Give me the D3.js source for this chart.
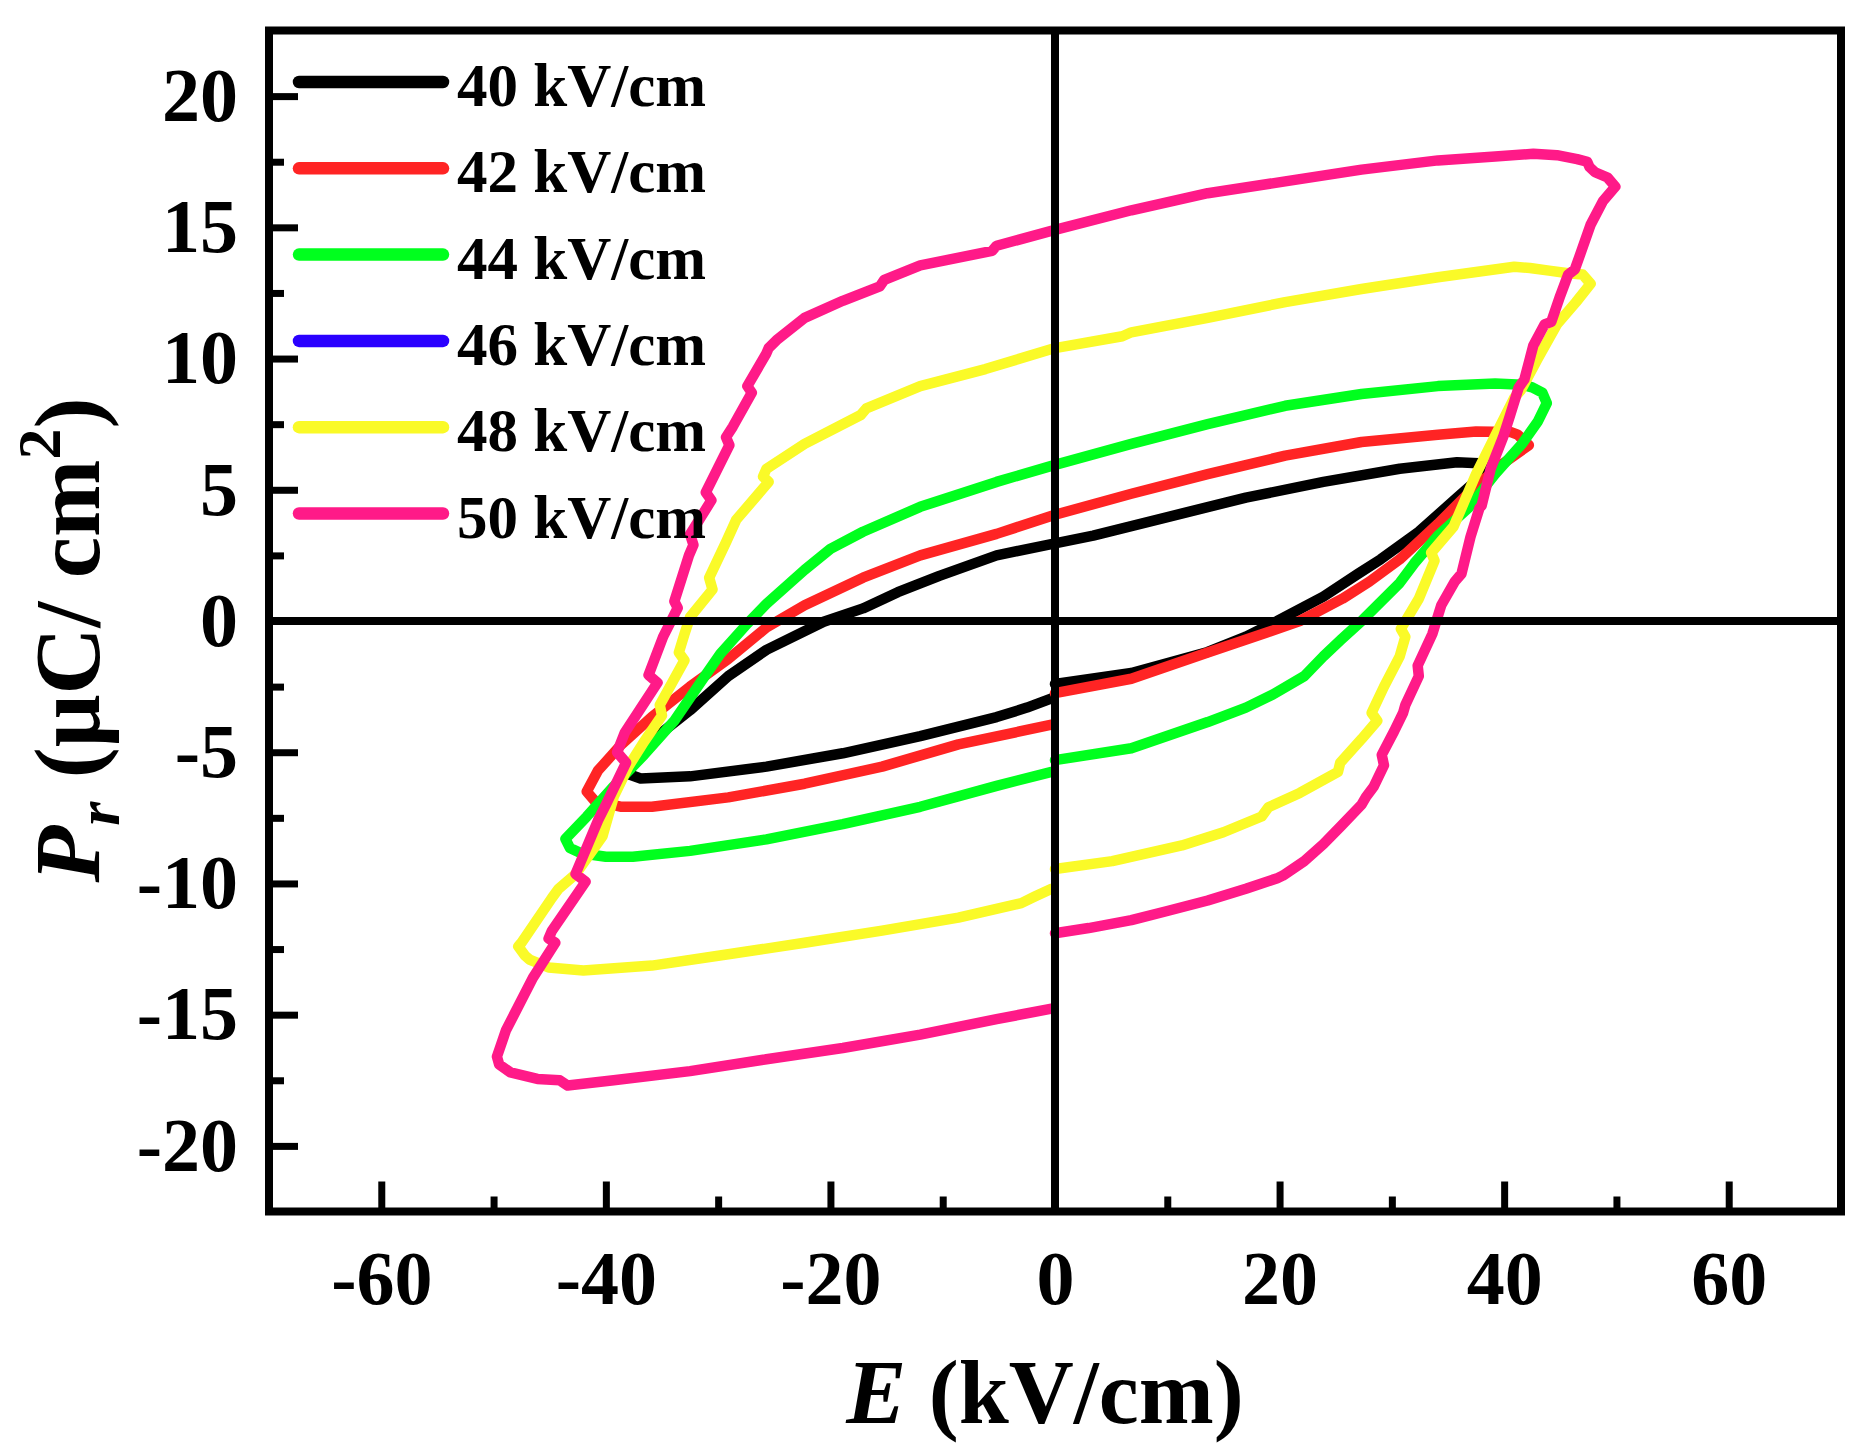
<!DOCTYPE html>
<html>
<head>
<meta charset="utf-8">
<script src="https://cdn.jsdelivr.net/npm/d3@7"></script>
<style>
body { margin: 0; background: #fff; }
text { font-family: "Liberation Serif", "Times New Roman", serif; font-weight: bold; fill: #000; }
</style>
</head>
<body>
<div id="chart"></div>
<script>
// P-E loops, [E (kV/cm), P (uC/cm2)] in the order they were traced
const loop40 = [[0,-2.4],[6.8,-1.98],[13.6,-1.18],[17,-0.6],[19.8,0.0],[23.9,0.93],[27,1.8],[29,2.35],[32.4,3.4],[35.8,4.7],[38.2,5.6],[39.6,5.9],
  [38.2,6.0],[35.8,6.05],[30.7,5.8],[23.9,5.3],[17,4.7],[10.2,3.98],[3.4,3.25],[0,2.96],[-5.2,2.5],[-10.3,1.72],[-14,1.1],[-17.1,0.48],[-20.6,-0.03],
  [-25.7,-1.1],[-29.1,-2.1],[-32.5,-3.4],[-35.9,-4.55],[-37.6,-5.4],[-37.9,-5.85],[-36.9,-6.0],[-32.5,-5.92],[-25.7,-5.55],[-18.9,-5.04],
  [-12,-4.39],[-5.2,-3.66],[-2.5,-3.3],[-0.3,-2.95]]

const loop42 = [[0,-2.75],[6.8,-2.2],[13.6,-1.2],[18.8,-0.45],[21.8,0.0],[25.6,0.85],[28,1.5],[30.7,2.35],[34.1,3.7],[37.5,5.15],[39.9,6.0],[42.2,6.7],
  [41.2,7.1],[40.6,7.2],[37.5,7.22],[34.1,7.1],[27.3,6.82],[20.5,6.3],[13.6,5.6],[6.8,4.85],[0,4.05],[-5.2,3.32],[-12,2.5],[-17.1,1.65],
  [-22.3,0.6],[-25.7,-0.25],[-29.1,-1.45],[-32.5,-2.5],[-35.9,-3.65],[-38.6,-4.7],[-40.7,-5.7],[-41.7,-6.5],[-41,-6.85],[-38.6,-7.08],
  [-35.9,-7.08],[-29.1,-6.72],[-22.3,-6.2],[-15.4,-5.55],[-8.6,-4.7],[-0.3,-3.95]]

const loop44 = [[0,-5.3],[6.8,-4.85],[13.6,-3.85],[17,-3.3],[19.4,-2.8],[22.2,-2.1],[23.9,-1.35],[25.5,-0.7],[27.3,0.0],[30.7,1.45],[32,2.2],
  [34.1,3.25],[36.8,4.3],[39.2,5.6],[41.6,6.75],[43,7.6],[43.8,8.3],[43.4,8.7],[42.5,8.9],[41.6,9.0],[39.2,9.05],[34.1,8.95],[27.3,8.65],
  [20.5,8.2],[13.6,7.5],[6.8,6.75],[0,5.95],[-5.2,5.3],[-12,4.35],[-17.1,3.4],[-20,2.75],[-22.3,1.95],[-25.7,0.65],[-27.4,-0.1],[-29.8,-1.25],
  [-31.5,-2.3],[-33.9,-3.8],[-36.6,-5.1],[-39.3,-6.3],[-41.7,-7.45],[-43.6,-8.3],[-43.2,-8.65],[-42.2,-8.85],[-40,-8.98],[-37.6,-8.98],
  [-32.5,-8.76],[-25.7,-8.32],[-18.9,-7.74],[-12,-7.08],[-5.2,-6.28],[-0.3,-5.75]]

const loop46 = []

const loop48 = [[0,-9.45],[5.1,-9.15],[11.3,-8.55],[15,-8.05],[18.4,-7.45],[19,-7.1],[21.8,-6.55],[25.2,-5.75],[25.4,-5.4],[27.3,-4.5],
  [28.7,-3.8],[28.2,-3.5],[29.3,-2.5],[30.7,-1.35],[31.2,-0.6],[30.8,-0.3],[32.4,0.85],[33.8,2.3],[33.5,2.6],[35.5,3.6],[37.5,5.6],[39.2,7.05],
  [40.9,8.5],[41.5,8.8],[43,10.0],[44.7,11.3],[46.4,12.15],[47.7,12.85],[47,13.2],[45.7,13.25],[44,13.35],[42.3,13.45],[40.9,13.5],
  [34.1,13.1],[27.3,12.65],[20.5,12.15],[13.6,11.55],[6.8,11.0],[6,10.85],[0,10.4],[-6.2,9.6],[-12,8.95],[-16.8,8.1],[-17.3,7.85],
  [-22.3,6.75],[-25.7,5.8],[-26,5.5],[-25.5,5.3],[-28.4,3.85],[-29.3,3.0],[-30.8,1.65],[-30.5,1.2],[-32.5,0.15],[-33,-0.5],[-33.5,-1.2],
  [-33,-1.5],[-35.2,-3.2],[-35,-3.6],[-36.6,-4.6],[-38,-5.55],[-39.3,-6.7],[-40.3,-8.2],[-42.7,-9.65],[-44.2,-10.2],[-44.8,-10.55],
  [-47.5,-12.25],[-47.8,-12.4],[-47.2,-12.75],[-46.8,-12.9],[-45.1,-13.2],[-42,-13.32],[-35.9,-13.13],[-29.1,-12.7],[-22.3,-12.26],
  [-15.4,-11.8],[-8.6,-11.3],[-3,-10.75],[-1.8,-10.5],[-0.3,-10.2]]

const loop50 = [[0,-11.9],[3,-11.7],[6.8,-11.4],[10,-11.05],[13.6,-10.65],[17,-10.2],[19.8,-9.8],[20.3,-9.7],[22.2,-9.15],[23.9,-8.5],
  [25.5,-7.8],[27.3,-7.0],[27.7,-6.7],[28.4,-6.3],[29.3,-5.5],[29.1,-5.1],[30.2,-4.2],[31,-3.5],[31.2,-3.2],[32.4,-2.1],[32.3,-1.7],
  [33.6,-0.5],[34.4,0.6],[35.6,1.5],[36.2,1.8],[37,3.2],[37.8,4.3],[38,4.4],[38.8,5.8],[39.9,7.0],[40.5,7.8],[41.3,8.9],[41.8,9.2],
  [42.6,10.5],[43.6,11.3],[44.2,11.4],[45,12.4],[45.7,13.2],[46.3,13.4],[46.8,14.0],[47.7,15.1],[48.8,16.0],[49.9,16.55],
  [49.2,16.9],[48.1,17.1],[47.6,17.3],[47.4,17.5],[46.5,17.6],[44.7,17.75],[42.6,17.8],[39.2,17.7],[34.1,17.55],[27.3,17.2],[20.5,16.75],
  [13.6,16.3],[6.8,15.65],[0,14.9],[-5.2,14.3],[-5.6,14.1],[-12,13.55],[-15.2,13.0],[-15.6,12.75],[-18.9,12.2],[-22.3,11.55],[-24.8,10.7],
  [-25.5,10.4],[-25.7,10.2],[-27.4,8.95],[-27,8.7],[-28.7,7.4],[-29.3,7.0],[-29,6.7],[-31.1,4.9],[-30.6,4.6],[-32.5,3.3],[-32.2,2.9],
  [-32.6,2.5],[-33.9,0.75],[-33.6,0.5],[-34.9,-0.6],[-36.2,-2.06],[-35.4,-2.35],[-38.3,-4.24],[-39,-5.0],[-38.2,-5.4],[-40,-7.0],
  [-40.7,-7.6],[-42.7,-9.64],[-41.8,-9.93],[-44.8,-11.8],[-45.1,-12.1],[-44.5,-12.26],[-46.5,-13.6],[-48.9,-15.6],[-49.7,-16.6],
  [-49.5,-16.9],[-48.5,-17.2],[-46.1,-17.45],[-44.1,-17.5],[-43.4,-17.7],[-39.3,-17.5],[-32.5,-17.15],[-25.7,-16.7],[-18.9,-16.27],
  [-12,-15.76],[-5.2,-15.17],[-0.3,-14.77]]

const seriesNames = ["40 kV/cm", "42 kV/cm", "44 kV/cm", "46 kV/cm", "48 kV/cm", "50 kV/cm"]
const seriesColors = ["#000000", "#ff2424", "#00ff1e", "#2a00ff", "#fafa28", "#ff1a88"]
const loops = [loop40, loop42, loop44, loop46, loop48, loop50]

const xMajor = [-60, -40, -20, 0, 20, 40, 60]
const xMinor = [-50, -30, -10, 10, 30, 50]
const yMajor = [-20, -15, -10, -5, 0, 5, 10, 15, 20]
const yMinor = [-17.5, -12.5, -7.5, -2.5, 2.5, 7.5, 12.5, 17.5]

var width = 1875
var height = 1450
var plotL = 269, plotR = 1841, plotT = 30.5, plotB = 1211.5

var svg = d3.select("#chart")
    .append("svg")
        .attr("width", width)
        .attr("height", height)

const x = d3.scaleLinear().domain([-70, 70]).range([plotL, plotR])
const y = d3.scaleLinear().domain([-22.5, 22.5]).range([plotB, plotT])

// curves
const line = d3.line()
    .x(d => x(d[0]))
    .y(d => y(d[1]))

svg.selectAll(".loop")
    .data(loops)
    .join("path")
    .attr("class", "loop")
    .attr("d", d => d.length ? line(d) : null)
    .attr("fill", "none")
    .attr("stroke", (d, i) => seriesColors[i])
    .attr("stroke-width", 10.5)
    .attr("stroke-linejoin", "round")
    .attr("stroke-linecap", "round")

// zero lines on top of the curves
svg.append("line")
    .attr("x1", x(0)).attr("x2", x(0))
    .attr("y1", plotT).attr("y2", plotB)
    .attr("stroke", "#000").attr("stroke-width", 8)
svg.append("line")
    .attr("x1", plotL).attr("x2", plotR)
    .attr("y1", y(0)).attr("y2", y(0))
    .attr("stroke", "#000").attr("stroke-width", 8)

// axes, ticks pointing inward
const fmt = d => String(d)

var yAxis = svg.append("g")
    .attr("transform", `translate(${plotL}, 0)`)
    .call(d3.axisLeft(y).tickValues(yMajor).tickFormat(fmt).tickSize(-29).tickPadding(31))
var yAxisMinor = svg.append("g")
    .attr("transform", `translate(${plotL}, 0)`)
    .call(d3.axisLeft(y).tickValues(yMinor).tickFormat("").tickSize(-15))

var xAxis = svg.append("g")
    .attr("transform", `translate(0, ${plotB})`)
    .call(d3.axisBottom(x).tickValues(xMajor).tickFormat(fmt).tickSize(-30).tickPadding(39))
var xAxisMinor = svg.append("g")
    .attr("transform", `translate(0, ${plotB})`)
    .call(d3.axisBottom(x).tickValues(xMinor).tickFormat("").tickSize(-15))

svg.selectAll(".domain").remove()
svg.selectAll(".tick line")
    .attr("stroke", "#000")
    .attr("stroke-width", 7)
svg.selectAll(".tick text")
    .style("font-family", '"Liberation Serif", "Times New Roman", serif')
    .style("font-weight", "bold")
    .style("font-size", "76px")
    .attr("fill", "#000")

// frame
svg.append("rect")
    .attr("x", plotL)
    .attr("y", plotT)
    .attr("width", plotR - plotL)
    .attr("height", plotB - plotT)
    .attr("fill", "none")
    .attr("stroke", "#000")
    .attr("stroke-width", 8)

// legend
const legY0 = 82, legStep = 86.3
var legend = svg.append("g")
legend.selectAll("line")
    .data(seriesNames)
    .join("line")
    .attr("x1", 299).attr("x2", 443)
    .attr("y1", (d, i) => legY0 + i * legStep)
    .attr("y2", (d, i) => legY0 + i * legStep)
    .attr("stroke", (d, i) => seriesColors[i])
    .attr("stroke-width", 12.5)
    .attr("stroke-linecap", "round")
legend.selectAll("text")
    .data(seriesNames)
    .join("text")
    .attr("x", 457)
    .attr("y", (d, i) => legY0 + i * legStep + 24)
    .style("font-size", "61px")
    .text(d => d)

// axis titles
var xTitle = svg.append("text")
    .attr("x", 1045)
    .attr("y", 1423)
    .attr("text-anchor", "middle")
    .style("font-size", "90px")
xTitle.append("tspan").style("font-style", "italic").text("E")
xTitle.append("tspan").text(" (kV/cm)")

var yTitle = svg.append("text")
    .attr("transform", "translate(99, 640) rotate(-90)")
    .attr("text-anchor", "middle")
    .style("font-size", "93px")
yTitle.append("tspan").style("font-style", "italic").text("P")
yTitle.append("tspan").style("font-style", "italic").style("font-size", "62px").attr("dy", 20).text("r")
yTitle.append("tspan").attr("dy", -20).text(" (\u03bcC/ cm")
yTitle.append("tspan").style("font-size", "62px").attr("dy", -39).text("2")
yTitle.append("tspan").attr("dy", 39).text(")")
</script>
</body>
</html>
